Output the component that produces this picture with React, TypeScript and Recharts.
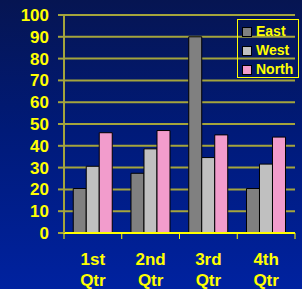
import type { FC } from "react";
import {
  BarChart,
  Bar,
  XAxis,
  YAxis,
  CartesianGrid,
} from "recharts";

const QUARTERS = ["1st Qtr", "2nd Qtr", "3rd Qtr", "4th Qtr"];
const EAST = [20.4, 27.4, 90, 20.4];
const WEST = [30.6, 38.6, 34.6, 31.6];
const NORTH = [46, 47, 45, 44];
const Y_TICKS = [0, 10, 20, 30, 40, 50, 60, 70, 80, 90, 100];

const SERIES = [
  { key: "East", color: "#808080" },
  { key: "West", color: "#c0c0c0" },
  { key: "North", color: "#f29ccc" },
];

const YELLOW = "#ffff00";
const GRID = "#a4a43c";
const FONT = "'Liberation Sans', Arial, sans-serif";

const data = QUARTERS.map((q, i) => ({
  name: q,
  East: EAST[i],
  West: WEST[i],
  North: NORTH[i],
}));

// two-line category label plus the tick marks that sit on category edges
const QuarterTick: FC<any> = ({ x, y, payload, index, visibleTicksCount }) => {
  const band = 231 / QUARTERS.length;
  const [a, b] = String(payload.value).split(" ");
  const top = y - 8;
  return (
    <g>
      <line x1={x - band / 2} y1={top} x2={x - band / 2} y2={top + 6} stroke={YELLOW} strokeWidth={1} />
      {index === visibleTicksCount - 1 && (
        <line x1={x + band / 2} y1={top} x2={x + band / 2} y2={top + 6} stroke={YELLOW} strokeWidth={1} />
      )}
      <text x={x} y={top + 32} textAnchor="middle" fill={YELLOW} fontSize={17} fontWeight="bold" fontFamily={FONT}>
        {a}
      </text>
      <text x={x} y={top + 53} textAnchor="middle" fill={YELLOW} fontSize={17} fontWeight="bold" fontFamily={FONT}>
        {b}
      </text>
    </g>
  );
};

const LegendBox: FC = () => (
  <div
    style={{
      position: "absolute",
      left: 237,
      top: 19,
      width: 56,
      height: 55,
      border: `1.5px solid ${YELLOW}`,
      padding: "2px 0 0 4px",
    }}
  >
    {SERIES.map((s) => (
      <div key={s.key} style={{ display: "flex", alignItems: "center", height: 19 }}>
        <span
          style={{
            width: 8,
            height: 8,
            background: s.color,
            border: "1px solid #000",
            marginRight: 4,
            display: "inline-block",
          }}
        />
        <span style={{ color: YELLOW, fontSize: 14, fontWeight: "bold", fontFamily: FONT, lineHeight: "19px" }}>
          {s.key}
        </span>
      </div>
    ))}
  </div>
);

const App: FC = () => (
  <div
    style={{
      position: "absolute",
      left: 0,
      top: 0,
      width: 302,
      height: 289,
      background: "linear-gradient(180deg, #061552 0%, #001a78 45%, #0022a0 100%)",
    }}
  >
    <BarChart
      width={302}
      height={289}
      data={data}
      margin={{ top: 15, right: 7, bottom: 0, left: 0 }}
      barCategoryGap="16%"
      barGap={0}
    >
      <CartesianGrid vertical={false} stroke={GRID} strokeWidth={2} />
      <XAxis
        dataKey="name"
        height={56}
        axisLine={{ stroke: YELLOW, strokeWidth: 2 }}
        tickLine={false}
        interval={0}
        tick={<QuarterTick />}
      />
      <YAxis
        domain={[0, 100]}
        ticks={Y_TICKS}
        width={64}
        interval={0}
        axisLine={{ stroke: GRID, strokeWidth: 2 }}
        tickLine={{ stroke: GRID, strokeWidth: 2 }}
        tickSize={6}
        tickMargin={9}
        tick={{ fill: YELLOW, fontSize: 17, fontWeight: "bold", fontFamily: FONT }}
      />
      {SERIES.map((s) => (
        <Bar key={s.key} dataKey={s.key} fill={s.color} stroke="#000" strokeWidth={1} isAnimationActive={false} />
      ))}
    </BarChart>
    <LegendBox />
  </div>
);

export default App;
